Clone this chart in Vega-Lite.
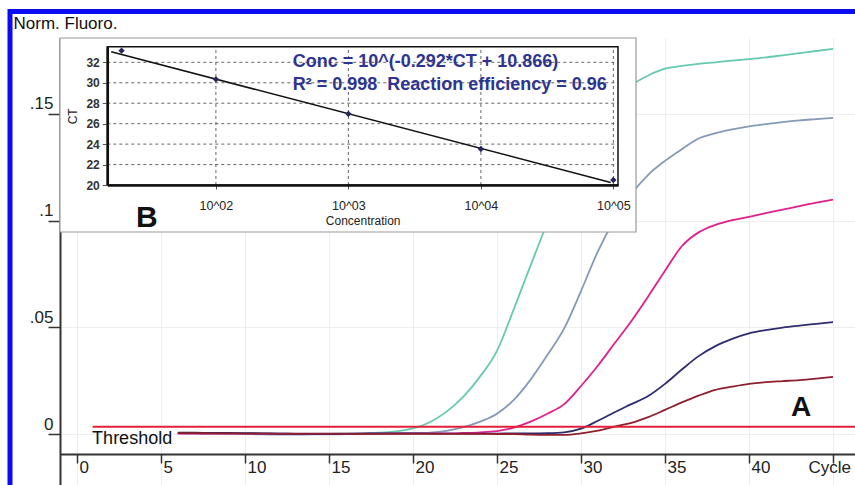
{
  "$schema": "https://vega.github.io/schema/vega-lite/v6.json",
  "width": 800,
  "height": 447,
  "autosize": "none",
  "padding": {"left": 60, "top": 38, "right": 0, "bottom": 0},
  "background": "white",
  "config": {"view": {"stroke": null}, "font": "Liberation Sans"},
  "datasets": {
    "curves": [
      {"cycle":6,"series":"10^05","value":0.0005},{"cycle":7,"series":"10^05","value":0.0004},{"cycle":8,"series":"10^05","value":0.0004},{"cycle":9,"series":"10^05","value":0.0003},{"cycle":10,"series":"10^05","value":0.0003},{"cycle":11,"series":"10^05","value":0.0002},{"cycle":12,"series":"10^05","value":0.0002},{"cycle":13,"series":"10^05","value":0.0002},{"cycle":14,"series":"10^05","value":0.0002},{"cycle":15,"series":"10^05","value":0.0002},{"cycle":16,"series":"10^05","value":0.0003},{"cycle":17,"series":"10^05","value":0.0004},{"cycle":18,"series":"10^05","value":0.0006},{"cycle":19,"series":"10^05","value":0.0012},{"cycle":20,"series":"10^05","value":0.0026},{"cycle":21,"series":"10^05","value":0.0055},{"cycle":22,"series":"10^05","value":0.0105},{"cycle":23,"series":"10^05","value":0.0175},{"cycle":24,"series":"10^05","value":0.027},{"cycle":25,"series":"10^05","value":0.039},{"cycle":26,"series":"10^05","value":0.0585},{"cycle":27,"series":"10^05","value":0.079},{"cycle":28,"series":"10^05","value":0.099},{"cycle":29,"series":"10^05","value":0.117},{"cycle":30,"series":"10^05","value":0.133},{"cycle":31,"series":"10^05","value":0.146},{"cycle":32,"series":"10^05","value":0.156},{"cycle":33,"series":"10^05","value":0.1635},{"cycle":34,"series":"10^05","value":0.168},{"cycle":35,"series":"10^05","value":0.1712},{"cycle":36,"series":"10^05","value":0.1725},{"cycle":37,"series":"10^05","value":0.1735},{"cycle":38,"series":"10^05","value":0.1742},{"cycle":39,"series":"10^05","value":0.175},{"cycle":40,"series":"10^05","value":0.1757},{"cycle":41,"series":"10^05","value":0.1765},{"cycle":42,"series":"10^05","value":0.1775},{"cycle":43,"series":"10^05","value":0.1785},{"cycle":44,"series":"10^05","value":0.1795},{"cycle":45,"series":"10^05","value":0.1805},
      {"cycle":6,"series":"10^04","value":0.0003},{"cycle":7,"series":"10^04","value":0.0002},{"cycle":8,"series":"10^04","value":0.0002},{"cycle":9,"series":"10^04","value":0.0001},{"cycle":10,"series":"10^04","value":0.0},{"cycle":11,"series":"10^04","value":-0.0002},{"cycle":12,"series":"10^04","value":-0.0003},{"cycle":13,"series":"10^04","value":-0.0003},{"cycle":14,"series":"10^04","value":-0.0002},{"cycle":15,"series":"10^04","value":-0.0002},{"cycle":16,"series":"10^04","value":-0.0001},{"cycle":17,"series":"10^04","value":0.0},{"cycle":18,"series":"10^04","value":0.0001},{"cycle":19,"series":"10^04","value":0.0002},{"cycle":20,"series":"10^04","value":0.0003},{"cycle":21,"series":"10^04","value":0.0006},{"cycle":22,"series":"10^04","value":0.0015},{"cycle":23,"series":"10^04","value":0.0032},{"cycle":24,"series":"10^04","value":0.0058},{"cycle":25,"series":"10^04","value":0.0095},{"cycle":26,"series":"10^04","value":0.016},{"cycle":27,"series":"10^04","value":0.0255},{"cycle":28,"series":"10^04","value":0.037},{"cycle":29,"series":"10^04","value":0.0495},{"cycle":30,"series":"10^04","value":0.067},{"cycle":31,"series":"10^04","value":0.0855},{"cycle":32,"series":"10^04","value":0.1005},{"cycle":33,"series":"10^04","value":0.1125},{"cycle":34,"series":"10^04","value":0.1215},{"cycle":35,"series":"10^04","value":0.128},{"cycle":36,"series":"10^04","value":0.1335},{"cycle":37,"series":"10^04","value":0.1385},{"cycle":38,"series":"10^04","value":0.141},{"cycle":39,"series":"10^04","value":0.1428},{"cycle":40,"series":"10^04","value":0.1442},{"cycle":41,"series":"10^04","value":0.1452},{"cycle":42,"series":"10^04","value":0.1462},{"cycle":43,"series":"10^04","value":0.147},{"cycle":44,"series":"10^04","value":0.1476},{"cycle":45,"series":"10^04","value":0.1482},
      {"cycle":6,"series":"10^03","value":0.0002},{"cycle":7,"series":"10^03","value":0.0002},{"cycle":8,"series":"10^03","value":0.0002},{"cycle":9,"series":"10^03","value":0.0002},{"cycle":10,"series":"10^03","value":0.0002},{"cycle":11,"series":"10^03","value":0.0002},{"cycle":12,"series":"10^03","value":0.0002},{"cycle":13,"series":"10^03","value":0.0002},{"cycle":14,"series":"10^03","value":0.0002},{"cycle":15,"series":"10^03","value":0.0002},{"cycle":16,"series":"10^03","value":0.0002},{"cycle":17,"series":"10^03","value":0.0002},{"cycle":18,"series":"10^03","value":0.0002},{"cycle":19,"series":"10^03","value":0.0003},{"cycle":20,"series":"10^03","value":0.0003},{"cycle":21,"series":"10^03","value":0.0003},{"cycle":22,"series":"10^03","value":0.0003},{"cycle":23,"series":"10^03","value":0.0005},{"cycle":24,"series":"10^03","value":0.0008},{"cycle":25,"series":"10^03","value":0.0014},{"cycle":26,"series":"10^03","value":0.003},{"cycle":27,"series":"10^03","value":0.0058},{"cycle":28,"series":"10^03","value":0.0095},{"cycle":29,"series":"10^03","value":0.014},{"cycle":30,"series":"10^03","value":0.0225},{"cycle":31,"series":"10^03","value":0.032},{"cycle":32,"series":"10^03","value":0.0425},{"cycle":33,"series":"10^03","value":0.053},{"cycle":34,"series":"10^03","value":0.0645},{"cycle":35,"series":"10^03","value":0.0765},{"cycle":36,"series":"10^03","value":0.088},{"cycle":37,"series":"10^03","value":0.0945},{"cycle":38,"series":"10^03","value":0.098},{"cycle":39,"series":"10^03","value":0.1002},{"cycle":40,"series":"10^03","value":0.1018},{"cycle":41,"series":"10^03","value":0.1035},{"cycle":42,"series":"10^03","value":0.1052},{"cycle":43,"series":"10^03","value":0.1068},{"cycle":44,"series":"10^03","value":0.1084},{"cycle":45,"series":"10^03","value":0.1098},
      {"cycle":6,"series":"10^02","value":0.0006},{"cycle":7,"series":"10^02","value":0.0006},{"cycle":8,"series":"10^02","value":0.0005},{"cycle":9,"series":"10^02","value":0.0005},{"cycle":10,"series":"10^02","value":0.0004},{"cycle":11,"series":"10^02","value":0.0003},{"cycle":12,"series":"10^02","value":0.0002},{"cycle":13,"series":"10^02","value":0.0001},{"cycle":14,"series":"10^02","value":0.0},{"cycle":15,"series":"10^02","value":0.0},{"cycle":16,"series":"10^02","value":0.0001},{"cycle":17,"series":"10^02","value":0.0002},{"cycle":18,"series":"10^02","value":0.0003},{"cycle":19,"series":"10^02","value":0.0003},{"cycle":20,"series":"10^02","value":0.0003},{"cycle":21,"series":"10^02","value":0.0002},{"cycle":22,"series":"10^02","value":0.0002},{"cycle":23,"series":"10^02","value":0.0002},{"cycle":24,"series":"10^02","value":0.0002},{"cycle":25,"series":"10^02","value":0.0002},{"cycle":26,"series":"10^02","value":0.0003},{"cycle":27,"series":"10^02","value":0.0003},{"cycle":28,"series":"10^02","value":0.0004},{"cycle":29,"series":"10^02","value":0.0008},{"cycle":30,"series":"10^02","value":0.0025},{"cycle":31,"series":"10^02","value":0.0062},{"cycle":32,"series":"10^02","value":0.0102},{"cycle":33,"series":"10^02","value":0.014},{"cycle":34,"series":"10^02","value":0.0178},{"cycle":35,"series":"10^02","value":0.0235},{"cycle":36,"series":"10^02","value":0.0302},{"cycle":37,"series":"10^02","value":0.0365},{"cycle":38,"series":"10^02","value":0.0412},{"cycle":39,"series":"10^02","value":0.0446},{"cycle":40,"series":"10^02","value":0.0472},{"cycle":41,"series":"10^02","value":0.0487},{"cycle":42,"series":"10^02","value":0.0499},{"cycle":43,"series":"10^02","value":0.0508},{"cycle":44,"series":"10^02","value":0.0516},{"cycle":45,"series":"10^02","value":0.0524},
      {"cycle":6,"series":"10^01","value":0.0004},{"cycle":7,"series":"10^01","value":0.0004},{"cycle":8,"series":"10^01","value":0.0003},{"cycle":9,"series":"10^01","value":0.0003},{"cycle":10,"series":"10^01","value":0.0002},{"cycle":11,"series":"10^01","value":0.0002},{"cycle":12,"series":"10^01","value":0.0001},{"cycle":13,"series":"10^01","value":0.0001},{"cycle":14,"series":"10^01","value":0.0001},{"cycle":15,"series":"10^01","value":0.0001},{"cycle":16,"series":"10^01","value":0.0001},{"cycle":17,"series":"10^01","value":0.0001},{"cycle":18,"series":"10^01","value":0.0001},{"cycle":19,"series":"10^01","value":0.0001},{"cycle":20,"series":"10^01","value":0.0001},{"cycle":21,"series":"10^01","value":0.0001},{"cycle":22,"series":"10^01","value":0.0001},{"cycle":23,"series":"10^01","value":0.0001},{"cycle":24,"series":"10^01","value":0.0001},{"cycle":25,"series":"10^01","value":0.0},{"cycle":26,"series":"10^01","value":0.0},{"cycle":27,"series":"10^01","value":-0.0003},{"cycle":28,"series":"10^01","value":-0.0004},{"cycle":29,"series":"10^01","value":-0.0004},{"cycle":30,"series":"10^01","value":0.0003},{"cycle":31,"series":"10^01","value":0.0016},{"cycle":32,"series":"10^01","value":0.0035},{"cycle":33,"series":"10^01","value":0.0052},{"cycle":34,"series":"10^01","value":0.0079},{"cycle":35,"series":"10^01","value":0.0113},{"cycle":36,"series":"10^01","value":0.0148},{"cycle":37,"series":"10^01","value":0.018},{"cycle":38,"series":"10^01","value":0.0207},{"cycle":39,"series":"10^01","value":0.0222},{"cycle":40,"series":"10^01","value":0.0235},{"cycle":41,"series":"10^01","value":0.0243},{"cycle":42,"series":"10^01","value":0.0248},{"cycle":43,"series":"10^01","value":0.0253},{"cycle":44,"series":"10^01","value":0.026},{"cycle":45,"series":"10^01","value":0.0268}
    ],
    "std": [
      {"conc": 19.4, "ct": 33.14},
      {"conc": 100, "ct": 30.34},
      {"conc": 1000, "ct": 26.95},
      {"conc": 10000, "ct": 23.52},
      {"conc": 100000, "ct": 20.49}
    ],
    "fit": [
      {"conc": 16.2, "ct": 33.04},
      {"conc": 95500, "ct": 20.25}
    ],
    "hgrid": [{"ct": 22}, {"ct": 24}, {"ct": 26}, {"ct": 28}, {"ct": 30}, {"ct": 32}],
    "vgrid": [{"conc": 100}, {"conc": 1000}, {"conc": 10000}, {"conc": 100000}]
  },
  "layer": [
    {
      "layer": [
        {
          "data": {"name": "curves"},
          "mark": {"type": "line", "strokeWidth": 1.8, "interpolate": "monotone"},
          "encoding": {
            "x": {
              "field": "cycle", "type": "quantitative",
              "scale": {"domain": [-1.012, 46.607], "nice": false, "zero": false},
              "axis": {
                "orient": "bottom", "offset": -31, "zindex": 0,
                "values": [0, 5, 10, 15, 20, 25, 30, 35, 40, 45],
                "labelExpr": "datum.value == 45 ? 'Cycle' : datum.label",
                "title": null, "tickSize": 9, "tickColor": "#333", "tickWidth": 1.5,
                "domainColor": "#333", "domainWidth": 2,
                "labelAlign": "left", "labelBaseline": "top", "labelPadding": -4,
                "labelOffset": {"condition": {"test": "datum.value == 45", "value": -25}, "value": 2},
                "labelFontSize": 17, "labelColor": "#222", "labelFlush": false, "labelOverlap": false,
                "grid": true, "gridColor": "#eeeeee"
              }
            },
            "y": {
              "field": "value", "type": "quantitative",
              "scale": {"domain": [-0.0239, 0.1856], "nice": false, "zero": false},
              "axis": {
                "orient": "left", "zindex": 0,
                "values": [0, 0.05, 0.1, 0.15],
                "labelExpr": "datum.value == 0 ? '0' : replace(format(datum.value, '.2~f'), '0.', '.')",
                "tickSize": 12, "tickColor": "#333", "tickWidth": 1.5,
                "domainColor": "#333", "domainWidth": 2,
                "labelAlign": "right", "labelBaseline": "alphabetic", "labelPadding": -5, "labelOffset": -5,
                "labelFontSize": 17, "labelColor": "#222", "labelFlush": false,
                "grid": true, "gridColor": "#eeeeee",
                "title": "Norm. Fluoro.", "titleAngle": 0, "titleAlign": "left", "titleBaseline": "top",
                "titleX": -47, "titleY": -23, "titleFontSize": 17, "titleFontWeight": "normal", "titleColor": "#111"
              }
            },
            "color": {
              "field": "series", "type": "nominal",
              "scale": {"domain": ["10^05", "10^04", "10^03", "10^02", "10^01"],
                        "range": ["#66c9b0", "#8599b8", "#e0208c", "#2e2b6e", "#8e1f2e"]},
              "legend": null
            }
          }
        },
        {
          "data": {"values": [{"thr": 0.0034}]},
          "mark": {"type": "rule", "color": "#e3203a", "strokeWidth": 2},
          "encoding": {
            "y": {"field": "thr", "type": "quantitative"},
            "x": {"datum": 0.93, "type": "quantitative"},
            "x2": {"datum": 46.607}
          }
        },
        {
          "data": {"values": [{"label": "Threshold"}]},
          "mark": {"type": "text", "align": "left", "baseline": "middle", "fontSize": 18, "color": "#111"},
          "encoding": {
            "text": {"field": "label"},
            "x": {"datum": 0.9, "type": "quantitative"},
            "y": {"datum": -0.0025, "type": "quantitative"}
          }
        },
        {
          "data": {"values": [{"label": "A"}]},
          "mark": {"type": "text", "align": "center", "baseline": "middle", "fontSize": 28, "fontWeight": "bold", "color": "#111"},
          "encoding": {
            "text": {"field": "label"},
            "x": {"datum": 43.1, "type": "quantitative"},
            "y": {"datum": 0.0122, "type": "quantitative"}
          }
        },
        {
          "data": {"values": [{}]},
          "mark": {"type": "rect", "filled": false, "stroke": "#0b0bf2", "strokeWidth": 5},
          "encoding": {
            "x": {"datum": -3.988, "type": "quantitative"},
            "x2": {"datum": 80},
            "y": {"datum": 0.19802, "type": "quantitative"},
            "y2": {"datum": -0.3}
          }
        }
      ]
    },
    {
      "layer": [
        {
          "data": {"values": [{}]},
          "mark": {"type": "rect", "fill": "white", "stroke": "#999999", "strokeWidth": 1.2},
          "encoding": {
            "x": {"datum": 6.647, "type": "quantitative"},
            "x2": {"datum": 148252},
            "y": {"datum": 34.38, "type": "quantitative"},
            "y2": {"datum": 15.4}
          }
        },
        {
          "data": {"name": "hgrid"},
          "mark": {"type": "rule", "color": "#666666", "strokeWidth": 1, "strokeDash": [3, 3]},
          "encoding": {
            "y": {"field": "ct", "type": "quantitative"},
            "x": {"datum": 15.14, "type": "quantitative"},
            "x2": {"datum": 108393}
          }
        },
        {
          "data": {"name": "vgrid"},
          "mark": {"type": "rule", "color": "#666666", "strokeWidth": 1, "strokeDash": [3, 3]},
          "encoding": {
            "x": {"field": "conc", "type": "quantitative"},
            "y": {"datum": 20, "type": "quantitative"},
            "y2": {"datum": 33.53}
          }
        },
        {
          "data": {"values": [{}]},
          "mark": {"type": "rect", "filled": false, "stroke": "#111111", "strokeWidth": 1.5},
          "encoding": {
            "x": {"datum": 15.14, "type": "quantitative"},
            "x2": {"datum": 108393},
            "y": {"datum": 20, "type": "quantitative"},
            "y2": {"datum": 33.53}
          }
        },
        {
          "data": {"name": "fit"},
          "mark": {"type": "line", "color": "#111111", "strokeWidth": 1.5},
          "encoding": {
            "x": {"field": "conc", "type": "quantitative"},
            "y": {"field": "ct", "type": "quantitative"}
          }
        },
        {
          "data": {"name": "std"},
          "mark": {"type": "point", "shape": "diamond", "filled": true, "color": "#26265e", "size": 40, "opacity": 1},
          "encoding": {
            "x": {
              "field": "conc", "type": "quantitative",
              "scale": {"type": "log", "domain": [15.14, 108393], "range": [47.3, 558], "nice": false},
              "axis": {
                "orient": "bottom", "offset": -300, "zindex": 1,
                "values": [100, 1000, 10000, 100000],
                "labelExpr": "'10^0' + round(log(datum.value) / LN10)",
                "grid": false, "tickSize": 4, "tickColor": "#555",
                "domainColor": "#111", "domainWidth": 2.5,
                "labelPadding": 10, "labelFontSize": 12.5, "labelColor": "#222", "labelFlush": false,
                "title": "Concentration", "titleFontSize": 12, "titleFontWeight": "normal", "titleColor": "#222", "titlePadding": 4
              }
            },
            "y": {
              "field": "ct", "type": "quantitative",
              "scale": {"domain": [20, 33.53], "range": [147, 8.7], "nice": false, "zero": false},
              "axis": {
                "orient": "left", "offset": -47.3, "zindex": 1,
                "values": [20, 22, 24, 26, 28, 30, 32],
                "grid": false, "tickSize": 5, "tickColor": "#555",
                "domainColor": "#111", "domainWidth": 2.5,
                "labelPadding": 3, "labelFontSize": 12, "labelFontWeight": "bold", "labelColor": "#333",
                "title": "CT", "titleFontSize": 12, "titleFontWeight": "normal", "titleColor": "#222", "titlePadding": 6
              }
            }
          }
        },
        {
          "data": {"values": [{"label": "Conc = 10^(-0.292*CT + 10.866)"}]},
          "mark": {"type": "text", "align": "left", "baseline": "middle", "fontSize": 18, "fontWeight": "bold", "color": "#2d3590"},
          "encoding": {
            "text": {"field": "label"},
            "x": {"datum": 379.7, "type": "quantitative"},
            "y": {"datum": 32.04, "type": "quantitative"}
          }
        },
        {
          "data": {"values": [{"label": "R² = 0.998\u00a0\u00a0Reaction efficiency = 0.96"}]},
          "mark": {"type": "text", "align": "left", "baseline": "middle", "fontSize": 18, "fontWeight": "bold", "color": "#2d3590"},
          "encoding": {
            "text": {"field": "label"},
            "x": {"datum": 379.7, "type": "quantitative"},
            "y": {"datum": 29.79, "type": "quantitative"}
          }
        },
        {
          "data": {"values": [{"label": "B"}]},
          "mark": {"type": "text", "align": "center", "baseline": "middle", "fontSize": 30, "fontWeight": "bold", "color": "#111"},
          "encoding": {
            "text": {"field": "label"},
            "x": {"datum": 30.1, "type": "quantitative"},
            "y": {"datum": 16.82, "type": "quantitative"}
          }
        }
      ]
    }
  ],
  "resolve": {
    "scale": {"x": "independent", "y": "independent"},
    "axis": {"x": "independent", "y": "independent"}
  }
}
